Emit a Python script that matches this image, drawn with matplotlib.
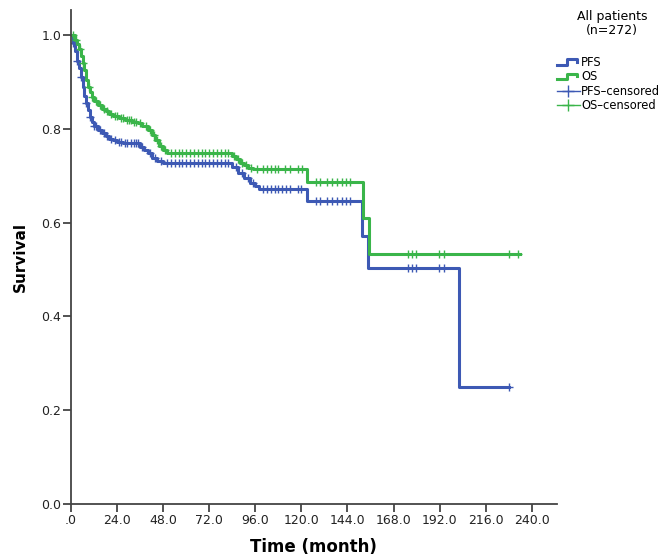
import numpy as np
import matplotlib
matplotlib.use("Agg")
import matplotlib.pyplot as plt
from matplotlib.lines import Line2D
from matplotlib.legend_handler import HandlerBase

# Kaplan-Meier steps (time in months, survival after the step)
pfs_t = [0, 1, 2, 3, 4, 5, 6, 7, 8, 9, 10, 11, 12, 14, 16, 18, 20, 22, 24, 27, 30,
         36, 38, 40, 42, 45, 48, 84, 87, 90, 93, 96, 98, 122.7, 151.6, 154.8, 202.1]
pfs_s = [1.0, 0.982, 0.965, 0.945, 0.93, 0.91, 0.89, 0.87, 0.855, 0.84, 0.825, 0.815,
         0.805, 0.797, 0.79, 0.784, 0.779, 0.775, 0.772, 0.770, 0.769, 0.762, 0.755,
         0.748, 0.738, 0.732, 0.727, 0.718, 0.705, 0.695, 0.685, 0.678, 0.672, 0.645,
         0.572, 0.503, 0.250]
pfs_end = 228.0

os_t = [0, 2, 3, 4, 5, 6, 7, 8, 9, 10, 11, 12, 14, 16, 18, 20, 22, 25, 28, 32, 35, 37,
        40, 42, 44, 46, 48, 50, 84, 86, 88, 90, 92, 95, 122.7, 152.2, 155.3]
os_s = [1.0, 0.99, 0.98, 0.97, 0.955, 0.94, 0.925, 0.905, 0.89, 0.878, 0.868, 0.86,
        0.85, 0.843, 0.837, 0.832, 0.828, 0.823, 0.819, 0.815, 0.812, 0.806, 0.797,
        0.787, 0.775, 0.763, 0.755, 0.749, 0.742, 0.735, 0.728, 0.722, 0.716, 0.714,
        0.686, 0.609, 0.533]
os_end = 234.0

pfs_cens = [1, 3, 5, 8, 10, 12, 13, 15, 17, 19, 21, 23, 25, 26, 28, 29, 31, 33, 34, 35,
            37, 41, 44, 47, 50, 52, 54, 56, 58, 60, 62, 64, 66, 68, 70, 72, 74, 76, 78,
            80, 82, 86, 89, 92, 95, 100, 102, 104, 106, 108, 110, 112, 114, 118, 120,
            127.5, 129.6, 133.1, 135.7, 138.3, 140.9, 143.2, 145.3, 175.3, 177.4, 179.6,
            191.7, 194.2, 228]
os_cens = [1, 2.5, 4.5, 6.5, 9.5, 11, 13, 15, 17, 19, 21, 23, 24, 26, 27, 29, 30, 31,
           33, 34, 36, 39, 41, 43, 45, 47, 49, 52, 54, 56, 58, 60, 62, 64, 66, 68, 70,
           72, 74, 76, 78, 80, 82, 85, 87, 89, 91, 94, 97, 100, 102, 104, 106, 108, 111.4,
           114, 118.2, 120.1, 127.5, 129.6, 133.1, 135.7, 138.3, 140.9, 143.2, 145.3,
           175.3, 177.4, 179.6, 191.7, 194.2, 228.2, 233]

x_ticks = [0, 24, 48, 72, 96, 120, 144, 168, 192, 216, 240]
x_labels = ['.0', '24.0', '48.0', '72.0', '96.0', '120.0', '144.0', '168.0', '192.0',
            '216.0', '240.0']
y_ticks = [0.0, 0.2, 0.4, 0.6, 0.8, 1.0]

blue = '#3d59b4'
green = '#3ab54a'


def surv_at(times, surv, when):
    idx = np.searchsorted(times, when, side='right') - 1
    return np.array(surv)[idx]


class StepHandler(HandlerBase):
    def create_artists(self, legend, orig_handle, xdescent, ydescent, width, height,
                       fontsize, trans):
        lo = height * 0.15 - ydescent
        hi = height * 0.85 - ydescent
        xs = np.array([0, 0.45, 0.45, 0.85, 0.85]) * width - xdescent
        ys = [lo, lo, hi, hi, lo + 0.35 * height]
        ln = Line2D(xs, ys, color=orig_handle.get_color(), lw=2.2, transform=trans)
        return [ln]


fig = plt.figure(figsize=(6.71, 5.6), dpi=100)
ax = fig.add_axes([0.1058, 0.1, 0.724, 0.882])

ax.step(pfs_t + [pfs_end], pfs_s + [pfs_s[-1]], where='post', color=blue, lw=2.2)
ax.step(os_t + [os_end], os_s + [os_s[-1]], where='post', color=green, lw=2.2)
ax.plot(pfs_cens, surv_at(pfs_t, pfs_s, pfs_cens), ls='none', marker='+', ms=6,
        mew=1.0, color=blue)
ax.plot(os_cens, surv_at(os_t, os_s, os_cens), ls='none', marker='+', ms=6,
        mew=1.0, color=green)

ax.set_xlim(0, 253)
ax.set_ylim(0, 1.053)
ax.spines['top'].set_visible(False)
ax.spines['right'].set_visible(False)
for s in ['left', 'bottom']:
    ax.spines[s].set_color('#444444')
    ax.spines[s].set_linewidth(1.3)
ax.set_xticks(x_ticks)
ax.set_xticklabels(x_labels)
ax.set_yticks(y_ticks)
ax.set_yticklabels(['%.1f' % v for v in y_ticks])
ax.tick_params(direction='out', length=6, width=1.3, color='#444444',
               labelsize=9, labelcolor='#222222', pad=1)
ax.set_xlabel('Time (month)', fontsize=12, fontweight='bold', labelpad=8)
ax.set_ylabel('Survival', fontsize=11, fontweight='bold', labelpad=10)

fig.text(0.912, 0.982, 'All patients\n(n=272)', ha='center', va='top',
         fontsize=9, linespacing=1.05)
handles = [Line2D([], [], color=blue), Line2D([], [], color=green),
           Line2D([], [], color=blue, marker='+', ms=8, mew=1.0, lw=1.0),
           Line2D([], [], color=green, marker='+', ms=8, mew=1.0, lw=1.0)]
fig.legend(handles, ['PFS', 'OS', 'PFS\u2013censored', 'OS\u2013censored'],
           handler_map={handles[0]: StepHandler(), handles[1]: StepHandler()},
           loc='upper left', bbox_to_anchor=(0.83, 0.9), frameon=False,
           fontsize=8.3, handlelength=2.0, handletextpad=0.1, labelspacing=0.12,
           borderaxespad=0, borderpad=0)

fig.savefig('out.png', dpi=100)
